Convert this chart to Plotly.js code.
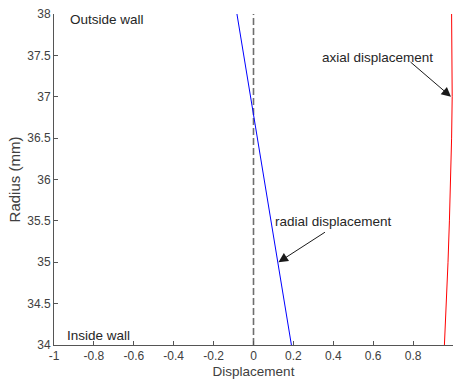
<!DOCTYPE html>
<html>
<head>
<meta charset="utf-8">
<script src="https://cdn.plot.ly/plotly-3.0.1.min.js"></script>
<style>html,body{margin:0;padding:0;background:#fff;}#chart{width:454px;height:387px;}</style>
</head>
<body>
<div id="chart"></div>
<script>
// Radius values (mm)
const radius = [34, 34.5, 35, 35.5, 36, 36.5, 37, 37.5, 38];
// Radial displacement (blue)
const radialDisp = [0.19, 0.156, 0.122, 0.088, 0.054, 0.020, -0.014, -0.048, -0.083];
// Axial displacement (red)
const axialDisp = [0.957, 0.967, 0.975, 0.982, 0.988, 0.993, 0.996, 0.996, 0.993];
// Zero reference line
const zeroX = [0, 0];
const zeroY = [34, 38];
// Tick labels
const xTickVals = [-1, -0.8, -0.6, -0.4, -0.2, 0, 0.2, 0.4, 0.6, 0.8, 1];
const xTickText = ['-1', '-0.8', '-0.6', '-0.4', '-0.2', '0', '0.2', '0.4', '0.6', '0.8', '1'];
const yTickVals = [34, 34.5, 35, 35.5, 36, 36.5, 37, 37.5, 38];
const yTickText = ['34', '34.5', '35', '35.5', '36', '36.5', '37', '37.5', '38'];

const font = 'Liberation Sans, Arial, sans-serif';
const textCol = '#262626';

const traces = [
  {x: zeroX, y: zeroY, mode: 'lines', line: {color: '#6e6e6e', width: 1.6, dash: '7px,3px'}, hoverinfo: 'skip'},
  {x: radialDisp, y: radius, mode: 'lines', line: {color: '#0000ff', width: 1}},
  {x: axialDisp, y: radius, mode: 'lines', line: {color: '#ff0000', width: 1}}
];

const layout = {
  width: 454, height: 387,
  margin: {l: 54, r: 1, t: 14, b: 42},
  showlegend: false,
  paper_bgcolor: '#fff', plot_bgcolor: '#fff',
  font: {family: font, color: textCol, size: 12},
  xaxis: {
    range: [-1, 1], tickvals: xTickVals, ticktext: xTickText,
    ticks: 'inside', ticklen: 4, tickcolor: '#555', tickwidth: 1,
    showline: true, linecolor: '#555', linewidth: 1, mirror: false,
    showgrid: false, zeroline: false,
    tickfont: {family: font, size: 12, color: '#404040'},
    title: {text: 'Displacement', font: {family: font, size: 13.5, color: '#404040'}, standoff: 4}
  },
  yaxis: {
    range: [34, 38], tickvals: yTickVals, ticktext: yTickText,
    ticks: 'inside', ticklen: 4, tickcolor: '#555', tickwidth: 1,
    showline: true, linecolor: '#555', linewidth: 1, mirror: false,
    showgrid: false, zeroline: false,
    tickfont: {family: font, size: 12, color: '#404040'},
    title: {text: 'Radius (mm)', font: {family: font, size: 15, color: '#404040'}, standoff: 2}
  },
  annotations: [
    {xref: 'paper', yref: 'paper', x: 0.035, y: 0.982, xanchor: 'left', yanchor: 'middle', text: 'Outside wall', showarrow: false, font: {size: 13.5, color: textCol}},
    {xref: 'paper', yref: 'paper', x: 0.028, y: 0.03, xanchor: 'left', yanchor: 'middle', text: 'Inside wall', showarrow: false, font: {size: 13.5, color: textCol}},
    {xref: 'x', yref: 'y', x: 0.62, y: 37.48, xanchor: 'center', yanchor: 'middle', text: 'axial displacement', showarrow: false, font: {size: 13.5, color: textCol}},
    {xref: 'x', yref: 'y', x: 0.402, y: 35.49, xanchor: 'center', yanchor: 'middle', text: 'radial displacement', showarrow: false, font: {size: 13.5, color: textCol}},
    {xref: 'x', yref: 'y', x: 0.99, y: 37.0, text: '', showarrow: true, arrowhead: 2, arrowsize: 1.9, arrowwidth: 1, arrowcolor: '#1a1a1a', ax: -42, ay: -36},
    {xref: 'x', yref: 'y', x: 0.125, y: 35.0, text: '', showarrow: true, arrowhead: 2, arrowsize: 1.9, arrowwidth: 1, arrowcolor: '#1a1a1a', ax: 48, ay: -31}
  ]
};

Plotly.newPlot('chart', traces, layout, {displayModeBar: false, staticPlot: true});
</script>
</body>
</html>
